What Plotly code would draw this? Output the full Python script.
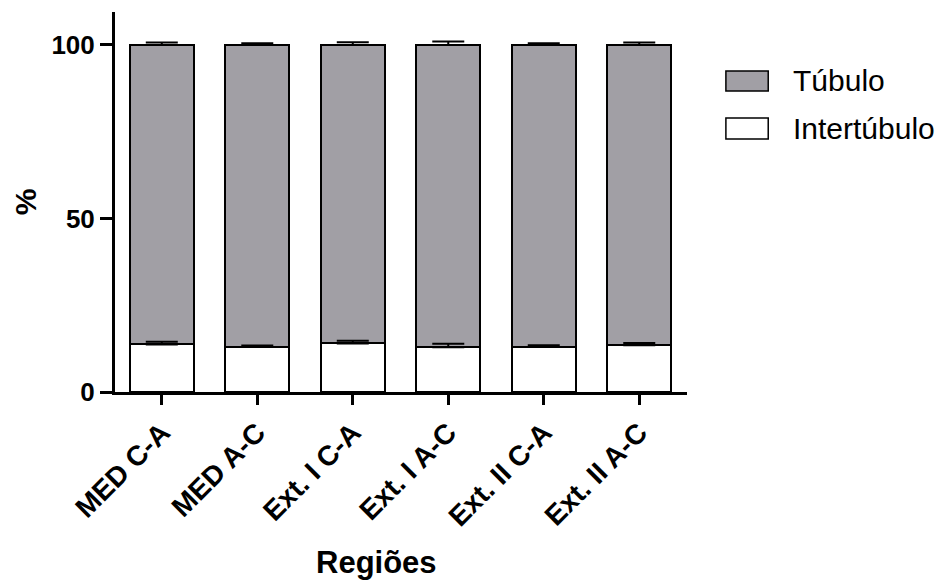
import plotly.graph_objects as go

categories = ["MED C-A", "MED A-C", "Ext. I C-A", "Ext. I A-C", "Ext. II C-A", "Ext. II A-C"]
series_names = ["Intertúbulo", "Túbulo"]
intertubulo = [13.7, 13.1, 14.0, 12.9, 13.1, 13.5]
intertubulo_err = [0.8, 0.3, 0.8, 1.0, 0.4, 0.6]
tubulo = [86.3, 86.9, 86.0, 87.1, 86.9, 86.5]
tubulo_err = [0.7, 0.5, 0.8, 1.0, 0.5, 0.7]
y_ticks = [0, 50, 100]
x_title = "Regiões"
y_title = "%"

GRAY = "#a19fa5"
FONT = "Liberation Sans, Arial, sans-serif"
colors = {"Intertúbulo": "white", "Túbulo": GRAY}

fig = go.Figure()
fig.add_trace(go.Bar(x=categories, y=intertubulo, name=series_names[0],
                     marker=dict(color=colors["Intertúbulo"], line=dict(color="black", width=2)),
                     showlegend=False))
fig.add_trace(go.Bar(x=categories, y=tubulo, name=series_names[1],
                     marker=dict(color=colors["Túbulo"], line=dict(color="black", width=2)),
                     showlegend=False))

# error bars drawn on top (upper side only), at stacked tops
tops = [a + b for a, b in zip(intertubulo, tubulo)]
for yv, err in ((intertubulo, intertubulo_err), (tops, tubulo_err)):
    fig.add_trace(go.Scatter(x=categories, y=yv, mode="markers",
                             marker=dict(size=1, color="rgba(0,0,0,0)"),
                             error_y=dict(type="data", array=err, arrayminus=[0] * len(err),
                                          symmetric=False, color="black", thickness=2, width=16),
                             showlegend=False, hoverinfo="skip"))

# legend drawn as boxes + text
legend_items = [("Túbulo", 0.845, 0.792), ("Intertúbulo", 0.721, 0.666)]
for name, y1, y0 in legend_items:
    fig.add_shape(type="rect", xref="paper", yref="paper", x0=1.068, x1=1.142, y0=y0, y1=y1,
                  fillcolor=colors[name], line=dict(color="black", width=1.5))
    fig.add_annotation(xref="paper", yref="paper", x=1.182, y=(y0 + y1) / 2, text=name,
                       showarrow=False, xanchor="left", yanchor="middle",
                       font=dict(family=FONT, size=30, color="black"))

# axis titles
fig.add_annotation(xref="paper", yref="paper", x=0.458, y=-0.448, text=f"<b>{x_title}</b>",
                   showarrow=False, xanchor="center", yanchor="middle",
                   font=dict(family=FONT, size=31, color="black"))
fig.add_annotation(xref="paper", yref="paper", x=-0.157, y=0.5, text=f"<b>{y_title}</b>",
                   showarrow=False, xanchor="center", yanchor="middle", textangle=-90,
                   font=dict(family=FONT, size=30, color="black"))

fig.update_layout(
    barmode="stack",
    bargap=0.33,
    width=939, height=582,
    margin=dict(l=115, r=252, t=12, b=190),
    plot_bgcolor="white", paper_bgcolor="white",
    font=dict(family=FONT, color="black"),
    xaxis=dict(range=[-0.49, 5.5], showline=True, linecolor="black", linewidth=3,
               ticks="outside", ticklen=10, tickwidth=3, tickcolor="black",
               tickangle=-45, tickfont=dict(size=28, family=FONT, weight="bold"),
               showgrid=False, zeroline=False, automargin=False),
    yaxis=dict(range=[0, 109.5], showline=True, linecolor="black", linewidth=3,
               ticks="outside", ticklen=12, tickwidth=3, tickcolor="black",
               tickvals=y_ticks, tickfont=dict(size=26, family=FONT, weight="bold"),
               showgrid=False, zeroline=False, automargin=False),
)

fig.write_html("out.html")
